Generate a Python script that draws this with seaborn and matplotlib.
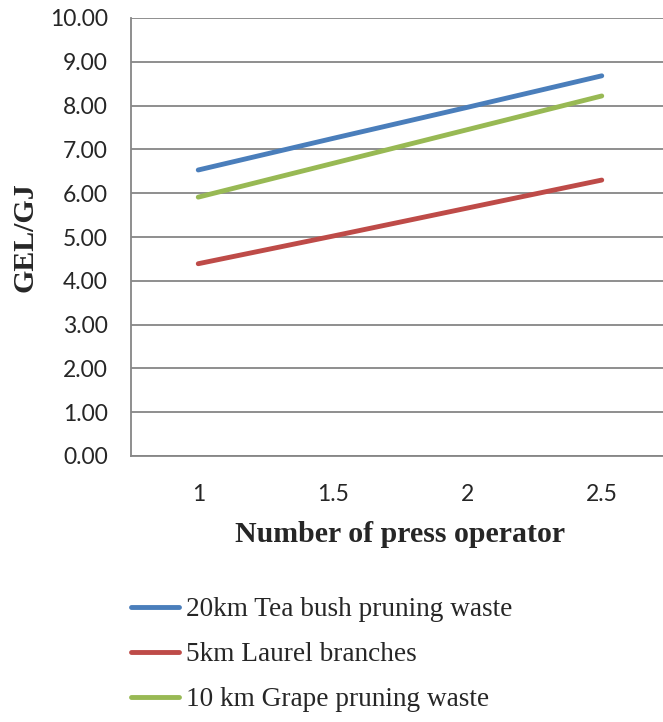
import matplotlib
matplotlib.use("Agg")
import matplotlib.pyplot as plt
import seaborn as sns
import pandas as pd

operators = ["1", "1.5", "2", "2.5"]
tea_bush_20km = [6.53, 7.25, 7.96, 8.68]
laurel_5km = [4.39, 5.02, 5.66, 6.30]
grape_10km = [5.91, 6.68, 7.45, 8.22]
series_names = ["20km Tea bush pruning waste", "5km Laurel branches", "10 km Grape pruning waste"]
colors = ["#4A7EBB", "#BE4B48", "#98B954"]

rows = []
for name, vals in zip(series_names, [tea_bush_20km, laurel_5km, grape_10km]):
    for i, (cat, v) in enumerate(zip(operators, vals)):
        rows.append({"pos": i, "operator": cat, "value": v, "series": name})
df = pd.DataFrame(rows)

sns.set_style("white")
plt.rcParams["font.family"] = ["Lato", "DejaVu Sans"]

fig = plt.figure(figsize=(6.63, 7.22), dpi=100)
ax = fig.add_axes([131 / 663, 266 / 722, 538 / 663, 438 / 722])

sns.lineplot(data=df, x="pos", y="value", hue="series", hue_order=series_names,
             palette=colors, linewidth=3.5, ax=ax, legend=False,
             solid_capstyle="round")

grid_grey = "#868686"
ax.set_xlim(-0.5, 3.5)
ax.set_ylim(0, 10)
ax.set_yticks(range(0, 11))
ax.set_yticklabels([f"{v:.2f}" for v in range(0, 11)], fontsize=16.5)
ax.set_xticks(range(len(operators)))
ax.set_xticklabels(operators, fontsize=16.5)
ax.set_xticks([-0.5, 0.5, 1.5, 2.5, 3.5], minor=True)
ax.tick_params(axis="x", which="major", length=0, pad=20)
ax.tick_params(axis="x", which="minor", length=4.5, width=1.2, color=grid_grey)
ax.tick_params(axis="y", length=4.5, width=1.2, color=grid_grey, pad=12)
ax.grid(axis="y", color=grid_grey, linewidth=1.3)
ax.set_axisbelow(True)
for s in ["top", "right"]:
    ax.spines[s].set_visible(False)
for s in ["left", "bottom"]:
    ax.spines[s].set_color(grid_grey)
    ax.spines[s].set_linewidth(1.3)

serif = ["Liberation Serif", "DejaVu Serif"]
ax.set_xlabel("Number of press operator", fontsize=21.5, fontweight="bold", family=serif)
ax.set_ylabel("GEL/GJ", fontsize=21.5, fontweight="bold", family=serif)
ax.xaxis.set_label_coords((400 - 131) / 538, -(534 - 456) / 438)
ax.xaxis.label.set_va("center")
ax.yaxis.set_label_coords(-(131 - 25) / 538, (456 - 237) / 438)
ax.yaxis.label.set_va("center")

handles = [plt.Line2D([], [], color=c, linewidth=3.5, solid_capstyle="round") for c in colors]
fig.legend(handles, series_names, loc="upper left",
           bbox_to_anchor=(131 / 663, 1 - 597 / 722), frameon=False,
           prop={"family": serif, "size": 19.6}, handlelength=1.75,
           handletextpad=0.28, labelspacing=0.74, borderpad=0, borderaxespad=0)

fig.savefig("out.png", dpi=100)
